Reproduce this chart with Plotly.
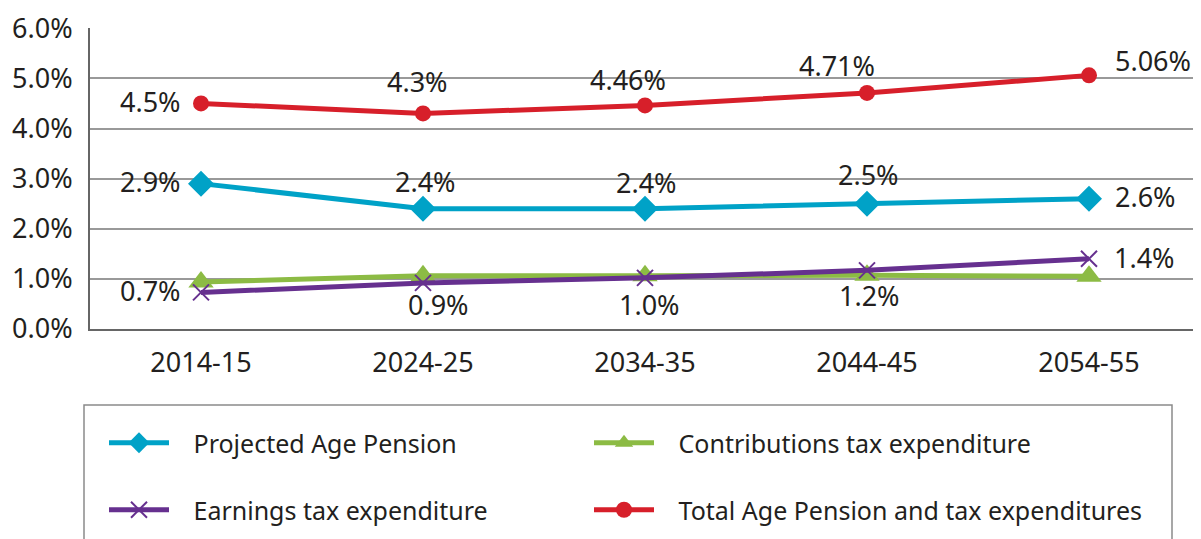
import plotly.graph_objects as go

years = ["2014-15", "2024-25", "2034-35", "2044-45", "2054-55"]

age_pension = [2.9, 2.4, 2.4, 2.5, 2.6]
age_pension_labels = ["2.9%", "2.4%", "2.4%", "2.5%", "2.6%"]

contributions = [0.94, 1.06, 1.06, 1.07, 1.05]

earnings = [0.73, 0.92, 1.02, 1.17, 1.4]
earnings_labels = ["0.7%", "0.9%", "1.0%", "1.2%", "1.4%"]

total = [4.5, 4.3, 4.46, 4.71, 5.06]
total_labels = ["4.5%", "4.3%", "4.46%", "4.71%", "5.06%"]

yticks = [0, 1, 2, 3, 4, 5, 6]
ytick_labels = ["0.0%", "1.0%", "2.0%", "3.0%", "4.0%", "5.0%", "6.0%"]

FONT = "Noto Sans"
TXT = "#231F20"
FS = 27      # ticks and data labels
FS_LEG = 25  # legend

# the page body adds an 8px margin, so the figure is a bit smaller than the window
OFF = 8
W, H = 1201 - OFF, 539 - OFF
ML, MR, MT, MB = 82, 1, 20, 210
pw = W - ML - MR
ph = H - MT - MB


def px_x(x):
    return (x - OFF - ML) / pw


def px_y(y):
    return (H - MB - (y - OFF)) / ph


pad = "&nbsp;&nbsp;&nbsp;"
BLUE, GREEN, PURPLE, RED = "#00A2C7", "#8CBB44", "#66308F", "#D71F2A"

fig = go.Figure()

fig.add_trace(go.Scatter(
    x=years, y=age_pension, name=pad + "Projected Age Pension",
    mode="lines+markers",
    line=dict(color=BLUE, width=5),
    marker=dict(symbol="diamond", size=20, color=BLUE),
    legend="legend",
))
fig.add_trace(go.Scatter(
    x=years, y=contributions, name=pad + "Contributions tax expenditure",
    mode="lines+markers",
    line=dict(color=GREEN, width=5),
    marker=dict(symbol="triangle-up", size=22, color=GREEN),
    legend="legend2",
))
fig.add_trace(go.Scatter(
    x=years, y=earnings, name=pad + "Earnings tax expenditure",
    mode="lines+markers",
    line=dict(color=PURPLE, width=5),
    marker=dict(symbol="x-thin", size=16, color=PURPLE,
                line=dict(color=PURPLE, width=2)),
    legend="legend3",
))
fig.add_trace(go.Scatter(
    x=years, y=total, name=pad + "Total Age Pension and tax expenditures",
    mode="lines+markers",
    line=dict(color=RED, width=5),
    marker=dict(symbol="circle", size=16, color=RED),
    legend="legend4",
))

# data labels: (xanchor, xshift, yshift) for each point
red_pos = [("right", -18, 2), ("center", -6, 32), ("center", -17, 26),
           ("center", -30, 27), ("left", 24, 15)]
blue_pos = [("right", -18, 2), ("center", 2, 27), ("center", 1, 26),
            ("center", 1, 29), ("left", 24, 2)]
purple_pos = [("right", -18, 2), ("center", 15, -22), ("center", 4, -27),
              ("center", 2, -25), ("left", 23, 1)]

annotations = []
for vals, labels, pos in [(total, total_labels, red_pos),
                          (age_pension, age_pension_labels, blue_pos),
                          (earnings, earnings_labels, purple_pos)]:
    for yr, v, lab, (xa, xs, ys) in zip(years, vals, labels, pos):
        annotations.append(dict(
            x=yr, y=v, xref="x", yref="y", text=lab, showarrow=False,
            xanchor=xa, yanchor="middle", xshift=xs, yshift=ys,
            font=dict(size=FS, color=TXT, family=FONT),
        ))

leg = dict(
    orientation="h", xanchor="left", yanchor="middle",
    font=dict(size=FS_LEG, color=TXT, family=FONT),
    itemwidth=60, bgcolor="rgba(0,0,0,0)",
)

fig.update_layout(
    width=W, height=H,
    margin=dict(l=ML, r=MR, t=MT, b=MB, autoexpand=False),
    paper_bgcolor="white", plot_bgcolor="white",
    font=dict(family=FONT, color=TXT, size=FS),
    showlegend=True,
    legend=dict(leg, x=px_x(104), y=px_y(443)),
    legend2=dict(leg, x=px_x(589), y=px_y(443)),
    legend3=dict(leg, x=px_x(104), y=px_y(510)),
    legend4=dict(leg, x=px_x(589), y=px_y(510)),
    xaxis=dict(
        range=[-0.5, 4.5], showgrid=False, showline=True,
        linecolor="#666666", linewidth=2, ticks="",
        ticklabelstandoff=9, tickfont=dict(size=FS, color=TXT),
    ),
    yaxis=dict(
        range=[0, 6.005], tickvals=yticks, ticktext=ytick_labels,
        showgrid=True, gridcolor="#999999", gridwidth=1.5,
        showline=True, linecolor="#666666", linewidth=2,
        zeroline=False, ticks="", ticklabelstandoff=10,
        tickfont=dict(size=FS, color=TXT),
    ),
    annotations=annotations,
    shapes=[dict(
        type="rect", xref="paper", yref="paper",
        x0=px_x(84), x1=px_x(1172), y0=px_y(405), y1=px_y(600),
        line=dict(color="#8A8A8A", width=1.5), layer="below",
    )],
)

fig.write_html("out.html")
